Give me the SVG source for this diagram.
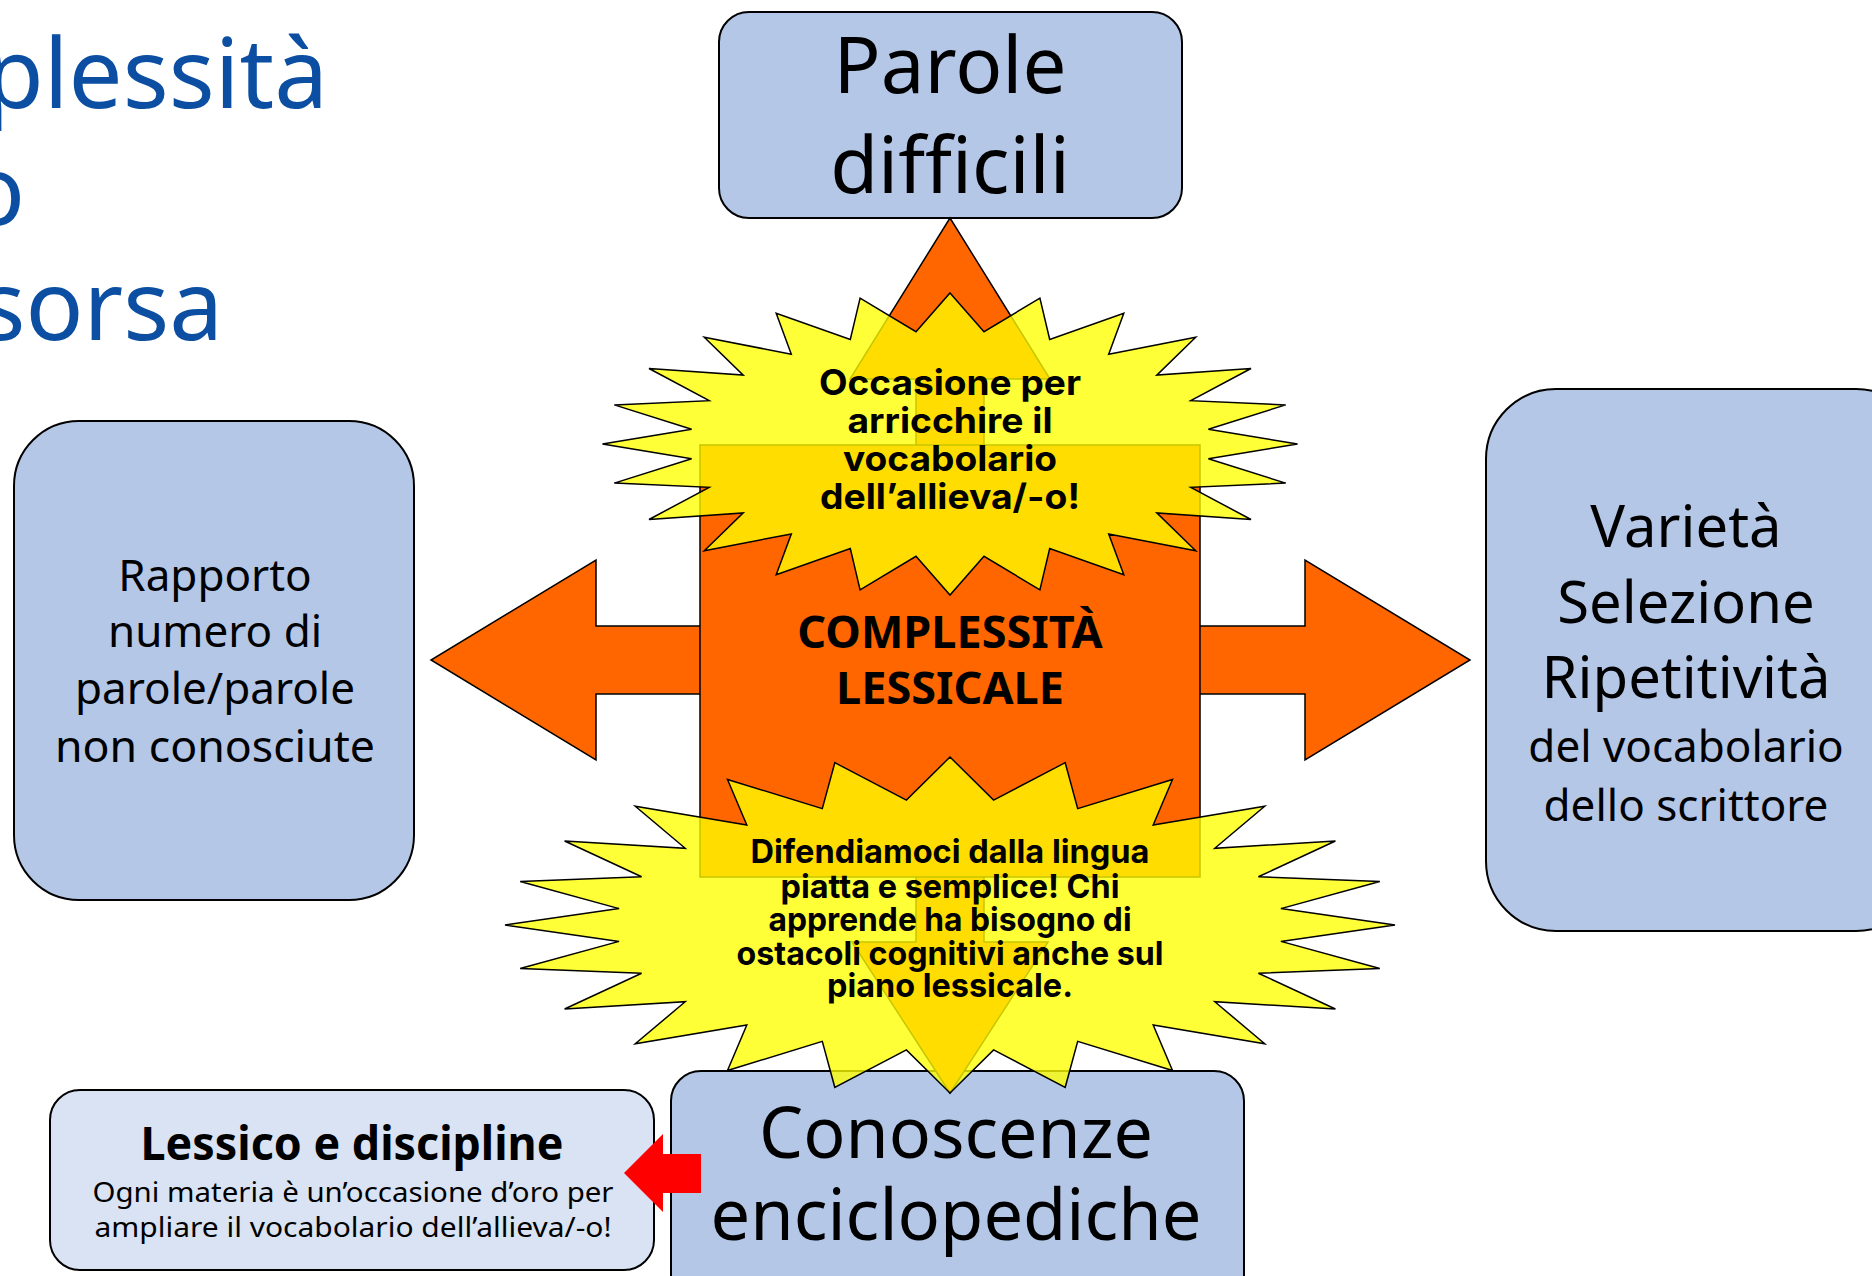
<svg xmlns="http://www.w3.org/2000/svg" width="1872" height="1276" viewBox="0 0 1872 1276">
<style>
.box{fill:#B4C7E7;stroke:#000;stroke-width:2}
.box2{fill:#DAE3F3;stroke:#000;stroke-width:2}
.t{font-family:"Noto Sans","DejaVu Sans",sans-serif;text-anchor:middle;fill:#000}
.b{font-weight:700}
.s{font-family:Inter,"Noto Sans","DejaVu Sans",sans-serif;font-weight:700;text-anchor:middle;fill:#000}
.title{font-family:"Noto Sans","DejaVu Sans",sans-serif;fill:#0B4EA2;font-size:96px;text-anchor:end}
.star{fill:#FFFF00;fill-opacity:.78;stroke:#000;stroke-width:1.5}
.orange{fill:#FF6600;stroke:#000;stroke-width:1.5}
</style>
<rect width="1872" height="1276" fill="#fff"/>
<g id="title">
<text class="title" x="328" y="108">plessità</text>
<text class="title" x="25" y="225">o</text>
<text class="title" x="223" y="340">sorsa</text>
</g>
<g id="node-parole">
<rect class="box" x="719" y="12" width="463" height="206" rx="30"/>
<text class="t" x="950" y="93" font-size="78">Parole</text>
<text class="t" x="950" y="193" font-size="78">difficili</text>
</g>
<g id="node-rapporto">
<rect class="box" x="14" y="421" width="400" height="479" rx="65"/>
<text class="t" x="215" y="591" font-size="44">Rapporto</text>
<text class="t" x="215" y="647" font-size="44">numero di</text>
<text class="t" x="215" y="704" font-size="44">parole/parole</text>
<text class="t" x="215" y="762" font-size="44" textLength="320" lengthAdjust="spacingAndGlyphs">non conosciute</text>
</g>
<g id="node-varieta">
<rect class="box" x="1486" y="389" width="440" height="542" rx="70"/>
<text class="t" x="1686" y="547" font-size="58">Varietà</text>
<text class="t" x="1686" y="623" font-size="58">Selezione</text>
<text class="t" x="1686" y="698" font-size="58">Ripetitività</text>
<text class="t" x="1686" y="762" font-size="44">del vocabolario</text>
<text class="t" x="1686" y="821" font-size="44">dello scrittore</text>
</g>
<g id="node-conoscenze">
<rect class="box" x="671" y="1071" width="573" height="240" rx="30"/>
<text class="t" x="956" y="1158" font-size="72" textLength="394" lengthAdjust="spacingAndGlyphs">Conoscenze</text>
<text class="t" x="956" y="1240" font-size="72" textLength="491" lengthAdjust="spacingAndGlyphs">enciclopediche</text>
</g>
<g id="node-lessico">
<rect class="box2" x="50" y="1090" width="604" height="180" rx="30"/>
<text class="t b" x="352" y="1160" font-size="46" textLength="423" lengthAdjust="spacingAndGlyphs">Lessico e discipline</text>
<text class="t" x="353" y="1202" font-size="28" textLength="521" lengthAdjust="spacingAndGlyphs">Ogni materia è un’occasione d’oro per</text>
<text class="t" x="353" y="1237" font-size="28" textLength="517" lengthAdjust="spacingAndGlyphs">ampliare il vocabolario dell’allieva/-o!</text>
</g>
<g id="connectors">
<polygon class="orange" points="950,218 1050,379 984,379 984,626 1305,626 1305,560 1470,660 1305,760 1305,694 984,694 984,942 1048,942 950,1093 852,942 916,942 916,694 596,694 596,760 431,660 596,560 596,626 916,626 916,379 850,379"/>
<polygon fill="#FF0000" points="624,1173 663,1134 663,1154 701,1154 701,1193 663,1193 663,1212"/>
</g>
<g id="node-complessita">
<rect class="orange" x="700" y="445" width="500" height="432"/>
<text class="t b" x="950" y="648" font-size="45">COMPLESSITÀ</text>
<text class="t b" x="950" y="704" font-size="45">LESSICALE</text>
</g>
<g id="node-star-top">
<polygon class="star" points="950,293 984,331.7 1039.9,298.1 1049.7,339.4 1123.8,313.2 1108.7,354.2 1195.7,337.2 1156.8,375.1 1251,368.5 1190.8,400.7 1285.7,404.9 1208.4,429.2 1297.5,444 1208.4,458.8 1285.7,483.1 1190.8,487.3 1251,519.5 1156.8,512.9 1195.7,550.8 1108.7,533.9 1123.8,574.8 1049.7,548.6 1039.9,589.9 984,556.3 950,595 916,556.3 860.1,589.9 850.3,548.6 776.2,574.8 791.3,533.9 704.3,550.8 743.2,512.9 649,519.5 709.2,487.3 614.3,483.1 691.6,458.8 602.5,444 691.6,429.2 614.3,404.9 709.2,400.7 649,368.5 743.2,375.1 704.3,337.2 791.3,354.2 776.2,313.2 850.3,339.4 860.1,298.1 916,331.7"/>
<text class="s" x="950" y="395" font-size="35" textLength="262" lengthAdjust="spacingAndGlyphs">Occasione per</text>
<text class="s" x="950" y="433" font-size="35" textLength="205" lengthAdjust="spacingAndGlyphs">arricchire il</text>
<text class="s" x="950" y="471" font-size="35" textLength="214" lengthAdjust="spacingAndGlyphs">vocabolario</text>
<text class="s" x="950" y="509" font-size="35" textLength="260" lengthAdjust="spacingAndGlyphs">dell’allieva/-o!</text>
</g>
<g id="node-star-bottom">
<polygon class="star" points="950,757 993.6,800.1 1065.2,762.7 1077.7,808.6 1172.5,779.5 1153.2,825 1264.7,806.2 1214.8,848.3 1335.4,841 1258.4,876.8 1379.8,881.5 1280.9,908.6 1395,925 1280.9,941.4 1379.8,968.5 1258.4,973.2 1335.4,1009 1214.8,1001.7 1264.7,1043.8 1153.2,1025 1172.5,1070.5 1077.7,1041.4 1065.2,1087.3 993.6,1049.9 950,1093 906.4,1049.9 834.8,1087.3 822.3,1041.4 727.5,1070.5 746.8,1025 635.3,1043.8 685.2,1001.7 564.6,1009 641.6,973.2 520.2,968.5 619.1,941.4 505,925 619.1,908.6 520.2,881.5 641.6,876.8 564.6,841 685.2,848.3 635.3,806.2 746.8,825 727.5,779.5 822.3,808.6 834.8,762.7 906.4,800.1"/>
<text class="s" x="950" y="863" font-size="33" textLength="399" lengthAdjust="spacingAndGlyphs">Difendiamoci dalla lingua</text>
<text class="s" x="950" y="898" font-size="33" textLength="339" lengthAdjust="spacingAndGlyphs">piatta e semplice! Chi</text>
<text class="s" x="950" y="931" font-size="33" textLength="363" lengthAdjust="spacingAndGlyphs">apprende ha bisogno di</text>
<text class="s" x="950" y="965" font-size="33" textLength="427" lengthAdjust="spacingAndGlyphs">ostacoli cognitivi anche sul</text>
<text class="s" x="950" y="997" font-size="33" textLength="246" lengthAdjust="spacingAndGlyphs">piano lessicale.</text>
</g>
</svg>
